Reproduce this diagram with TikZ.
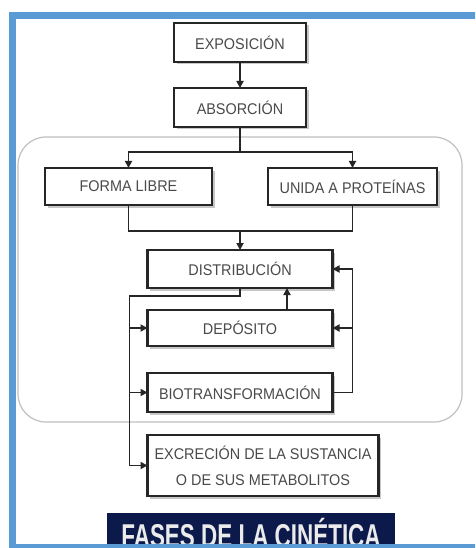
\documentclass[tikz,border=0pt]{standalone}
\usepackage{fontspec}
\setmainfont{Liberation Sans}
\newfontfamily\boxfont[FakeStretch=0.93]{Liberation Sans}
\newfontfamily\titlefont[FakeStretch=0.68]{Liberation Sans}
\usepackage{tikz}
\usetikzlibrary{arrows.meta, positioning, shadows}
\definecolor{frameblue}{HTML}{5B9BD5}
\definecolor{navy}{HTML}{0C1A4B}
\definecolor{txtgray}{HTML}{4A4A4A}

\begin{document}
\begin{tikzpicture}[
    x=1pt, y=-1pt,
    box/.style={rectangle, draw=black!85, line width=2.2pt, fill=white, outer sep=0pt,
        minimum width=185pt, minimum height=38pt, inner sep=2pt, text=txtgray,
        font=\boxfont\fontsize{15.5}{18}\selectfont,
        drop shadow={shadow xshift=2.5pt, shadow yshift=-2.5pt, fill=black!40, opacity=.55}},
    arrow/.style={-{Triangle[length=7pt, width=7pt]}, line width=1.8pt, draw=black!85},
    line/.style={line width=1.8pt, draw=black!85}
]
\useasboundingbox (0,0) rectangle (475,548);
\clip (0,0) rectangle (475,548);

% container
\draw[black!25, line width=1.2pt, rounded corners=28pt] (18,137) rectangle (462,422);

\node[box, minimum width=132pt, minimum height=39pt] (expo) at (240,42.5) {EXPOSICIÓN};
\node[box, minimum width=132pt, minimum height=39pt, below=26pt of expo] (abso) {ABSORCIÓN};
\node[box, minimum width=167pt, minimum height=37pt, below=41pt of abso, xshift=-111.5pt] (libre) {FORMA LIBRE};
\node[box, minimum width=169pt, minimum height=37pt, below=41pt of abso, xshift=112.5pt] (unida) {UNIDA A PROTEÍNAS};
\node[box, below=123pt of abso] (dist) {DISTRIBUCIÓN};
\node[box, minimum height=36pt, below=22pt of dist] (dep) {DEPÓSITO};
\node[box, minimum height=39pt, below=27pt of dep] (bio) {BIOTRANSFORMACIÓN};
\node[box, minimum width=231pt, minimum height=61pt, align=center,
      below right=23pt and 0pt of bio.south west] (exc)
      {EXCRECIÓN DE LA SUSTANCIA\\[8pt]O DE SUS METABOLITOS};

% connectors
\coordinate (fork) at ([yshift=-25pt]abso.south);
\coordinate (join) at ([yshift=19pt]dist.north);
\coordinate (bend) at ([yshift=-8pt]dist.south);
\draw[arrow] (expo) -- (abso);
\draw[line] (abso) -- (fork);
\draw[arrow] (fork) -| (libre);
\draw[arrow] (fork) -| (unida);
\draw[line] (libre) |- (join) -| (unida);
\draw[arrow] (join) -- (dist);
\draw[line] (dist) -- (bend) -| ([xshift=-18pt]exc.west);
\foreach \n in {dep, bio, exc}
    \draw[arrow] ([xshift=-18pt]\n.west) -- (\n);
\draw[arrow] ([xshift=47pt]dep.north) -- ([xshift=47pt]dist.south);
\draw[arrow] (bio.east) -| ([xshift=20pt]dist.east) -- (dist.east);
\draw[arrow] ([xshift=20pt]dep.east) -- (dep);

% title and frame
\node[fill=navy, text=white!92!black, minimum width=288pt, minimum height=40pt, inner sep=0pt,
      anchor=north, font=\titlefont\bfseries\fontsize{33}{36}\selectfont] (title) at (251,513)
      {FASES DE LA CINÉTICA};
\draw[frameblue, line width=7.5pt] (12.5,15.5) rectangle (485,548);
\end{tikzpicture}
\end{document}
